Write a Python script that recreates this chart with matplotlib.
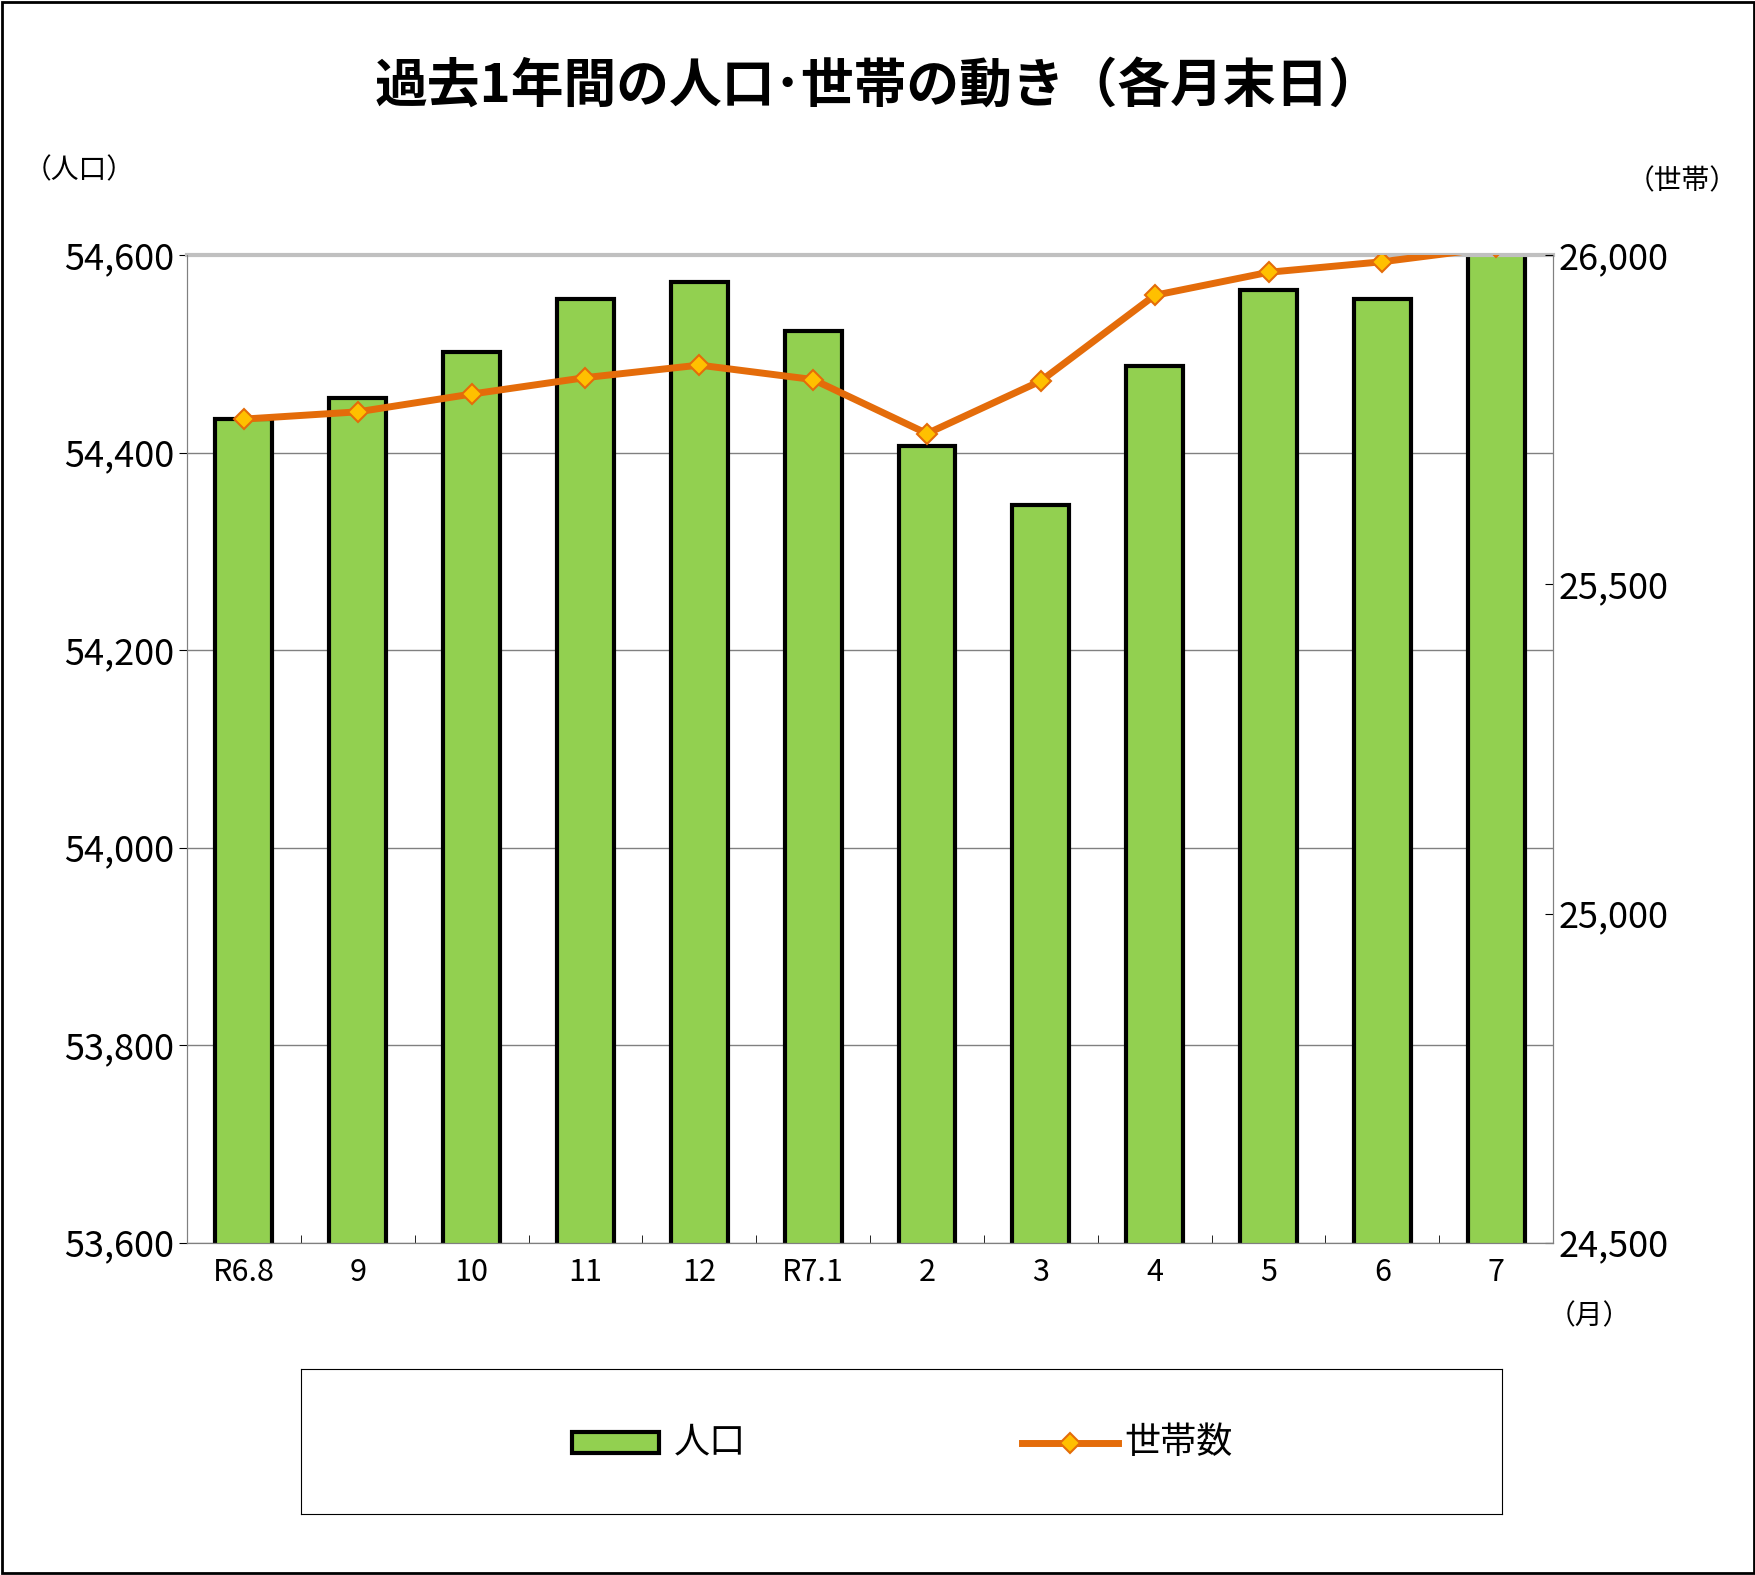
import matplotlib
matplotlib.use("Agg")
import matplotlib.pyplot as plt
from matplotlib.patches import Rectangle
import numpy as np

plt.rcParams["font.family"] = ["Noto Sans CJK JP", "DejaVu Sans"]

categories = ["R6.8", "9", "10", "11", "12", "R7.1", "2", "3", "4", "5", "6", "7"]
population = [54434, 54455, 54502, 54556, 54573, 54523, 54407, 54347, 54488, 54565, 54556, 54610]
households = [25751, 25762, 25789, 25814, 25833, 25811, 25729, 25809, 25939, 25974, 25990, 26012]
left_ticks = [53600, 53800, 54000, 54200, 54400, 54600]
right_ticks = [24500, 25000, 25500, 26000]

fig = plt.figure(figsize=(17.56, 15.75), dpi=100)
fig.patches.append(Rectangle((0.001, 0.001), 0.998, 0.998, transform=fig.transFigure,
                             fill=False, edgecolor="black", linewidth=2))
ax = fig.add_axes([0.1065, 0.211, 0.778, 0.627])
x = np.arange(len(categories))
ax.bar(x, population, width=0.5, color="#92D050", edgecolor="black", linewidth=3, zorder=2)
ax.set_ylim(53600, 54600)
ax.set_xlim(-0.5, len(categories) - 0.5)
ax.set_yticks(left_ticks)
ax.set_yticklabels([f"{v:,}" for v in left_ticks], fontsize=26)
ax.set_xticks(x)
ax.set_xticklabels(categories, fontsize=22)
ax.set_xticks(np.arange(-0.5, len(categories)), minor=True)
ax.tick_params(axis="x", which="major", length=0, pad=10)
ax.tick_params(axis="x", which="minor", length=6, direction="in")
ax.tick_params(axis="y", length=6, direction="out")
ax.grid(axis="y", color="#808080", linewidth=1, zorder=0)
for s in ax.spines.values():
    s.set_color("#808080")
ax.spines["top"].set_color("#C0C0C0")
ax.spines["top"].set_linewidth(3)

ax2 = ax.twinx()
ax2.plot(x, households, color="#E46C0A", linewidth=5, marker="D", markersize=10,
         markerfacecolor="#FFC000", markeredgecolor="#E46C0A", markeredgewidth=1.5, zorder=3)
ax2.set_ylim(24500, 26000)
ax2.set_yticks(right_ticks)
ax2.set_yticklabels([f"{v:,}" for v in right_ticks], fontsize=26)
ax2.tick_params(axis="y", length=6, direction="in")
for s in ax2.spines.values():
    s.set_color("#808080")
ax2.spines["top"].set_visible(False)

fig.text(0.5, 0.945, "過去1年間の人口･世帯の動き（各月末日）", ha="center", va="center",
         fontsize=38, fontweight="bold")
fig.text(0.045, 0.892, "（人口）", ha="center", va="center", fontsize=20)
fig.text(0.958, 0.885, "（世帯）", ha="center", va="center", fontsize=20)
fig.text(0.905, 0.164, "（月）", ha="center", va="center", fontsize=20)

lax = fig.add_axes([0.1716, 0.039, 0.684, 0.092])
lax.set_xlim(0, 1); lax.set_ylim(0, 1)
lax.set_xticks([]); lax.set_yticks([])
for s in lax.spines.values():
    s.set_color("black")
lax.add_patch(Rectangle((0.225, 0.42), 0.073, 0.14, facecolor="#92D050", edgecolor="black", linewidth=3))
lax.text(0.31, 0.49, "人口", va="center", fontsize=26)
lax.plot([0.6, 0.68], [0.49, 0.49], color="#E46C0A", linewidth=5)
lax.plot([0.64], [0.49], marker="D", markersize=10, markerfacecolor="#FFC000",
         markeredgecolor="#E46C0A", markeredgewidth=1.5)
lax.text(0.685, 0.49, "世帯数", va="center", fontsize=26)

fig.savefig("out.png", dpi=100)
